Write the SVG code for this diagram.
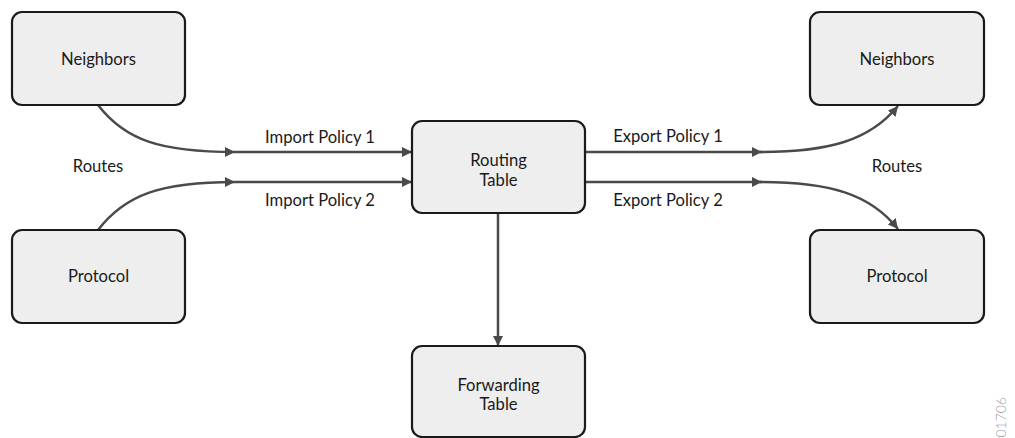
<svg xmlns="http://www.w3.org/2000/svg" width="1015" height="438" viewBox="0 0 1015 438">
<style>
.box{fill:#eeeeee;stroke:#1a1a1a;stroke-width:2.2}
.t{font-family:Lato,"Liberation Sans",sans-serif;font-size:16.6px;fill:#1a1a1a;text-anchor:middle}
.c{fill:none;stroke:#4a4a4a;stroke-width:2.5}
</style>
<defs>
<marker id="ah" viewBox="0 0 10 10" refX="10" refY="5" markerWidth="10" markerHeight="10" markerUnits="userSpaceOnUse" orient="auto">
<path d="M0,0 L10,5 L0,10 Z" fill="#4a4a4a"/>
</marker>
</defs>
<g id="connectors">
<path class="c" d="M98,105 C125,140 160,152 235,152 L412,152" marker-mid="url(#ah)" marker-end="url(#ah)"/>
<path class="c" d="M98,230 C125,195 160,182 235,182 L412,182" marker-mid="url(#ah)" marker-end="url(#ah)"/>
<path class="c" d="M585,152 L762,152" marker-end="url(#ah)"/>
<path class="c" d="M760,152 C830,152 870,140 898,106" marker-end="url(#ah)"/>
<path class="c" d="M585,182 L762,182" marker-end="url(#ah)"/>
<path class="c" d="M760,182 C830,182 870,194 898,229" marker-end="url(#ah)"/>
<path class="c" d="M498,213 L498,346" marker-end="url(#ah)"/>
</g>
<g id="labels">
<text class="t" x="320" y="143">Import Policy 1</text>
<text class="t" x="320" y="206">Import Policy 2</text>
<text class="t" x="98" y="172">Routes</text>
<text class="t" x="668" y="142">Export Policy 1</text>
<text class="t" x="668" y="206">Export Policy 2</text>
<text class="t" x="897" y="172">Routes</text>
</g>
<g id="neighbors-left"><rect class="box" x="12" y="12" width="173" height="93" rx="10"/><text class="t" x="98.5" y="65">Neighbors</text></g>
<g id="protocol-left"><rect class="box" x="12" y="230" width="173" height="93" rx="10"/><text class="t" x="98.5" y="282">Protocol</text></g>
<g id="routing-table"><rect class="box" x="412" y="121" width="173" height="92" rx="10"/><text class="t" x="498.5" y="166">Routing</text><text class="t" x="498.5" y="186">Table</text></g>
<g id="forwarding-table"><rect class="box" x="412" y="346" width="173" height="91" rx="10"/><text class="t" x="498.5" y="391">Forwarding</text><text class="t" x="498.5" y="410">Table</text></g>
<g id="neighbors-right"><rect class="box" x="810" y="12" width="174" height="93" rx="10"/><text class="t" x="897" y="65">Neighbors</text></g>
<g id="protocol-right"><rect class="box" x="810" y="230" width="174" height="93" rx="10"/><text class="t" x="897" y="282">Protocol</text></g>
<text x="1006" y="397" transform="rotate(-90 1006 397)" text-anchor="end" font-family="Lato,'Liberation Sans',sans-serif" font-weight="300" font-size="14" fill="#999999">g301706</text>
</svg>
